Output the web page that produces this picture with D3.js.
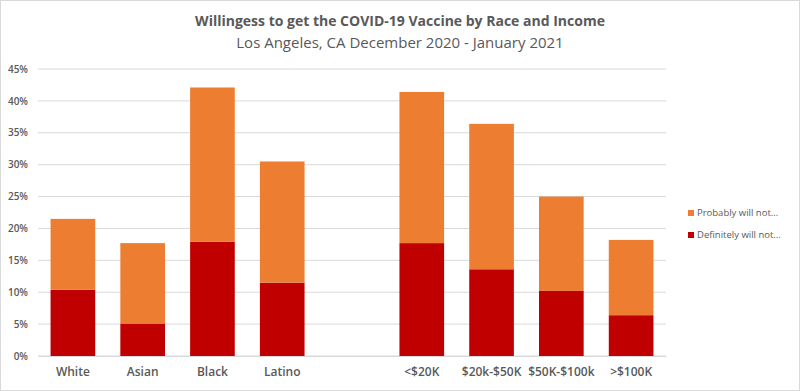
<!DOCTYPE html>
<html><head><meta charset="utf-8">
<script src="https://cdn.jsdelivr.net/npm/d3@7"></script>
<style>body{margin:0;background:#fff}svg{display:block}</style>
</head><body>
<svg id="c" width="800" height="391"></svg>
<script>
const categories = ["White","Asian","Black","Latino","","<$20K","$20k-$50K","$50K-$100k",">$100K"];
const definitelyWillNot = [10.4, 5.1, 17.9, 11.5, null, 17.7, 13.6, 10.2, 6.4];
const totalWillNot = [21.5, 17.7, 42.1, 30.5, null, 41.4, 36.4, 25.0, 18.2];
const probablyWillNot = totalWillNot.map((t,i)=> t==null?null: +(t-definitelyWillNot[i]).toFixed(1));
const yTicks = [0,5,10,15,20,25,30,35,40,45];
const seriesNames = ["Definitely will not...","Probably will not..."];
const colors = ["#c00000","#ed7d31"];

const svg = d3.select("#c");
svg.append("rect").attr("x",0.5).attr("y",0.5).attr("width",799).attr("height",390)
  .attr("fill","#fff").attr("stroke","#d9d9d9");

const m = {l:38, r:134, t:69, b:35};
const W = 800, H = 391;
const x = d3.scaleBand().domain(categories.map((c,i)=>i)).range([m.l, W-m.r]).paddingInner(0.36).paddingOuter(0.18);
const y = d3.scaleLinear().domain([0,45]).range([H-m.b, m.t]);

// grid
svg.append("g").selectAll("line").data(yTicks).join("line")
  .attr("x1",m.l).attr("x2",W-m.r).attr("y1",d=>y(d)).attr("y2",d=>y(d))
  .attr("stroke","#d9d9d9").attr("stroke-width",1);

// y axis labels
const yAxis = d3.axisLeft(y).tickValues(yTicks).tickFormat(d=>d+"%").tickSize(0).tickPadding(10);
const ya = svg.append("g").attr("transform",`translate(${m.l},0)`).call(yAxis);
ya.select(".domain").remove();
ya.selectAll("text").attr("font-family","'Open Sans', sans-serif").attr("font-size","10px").attr("fill","#595959").attr("font-weight","600");

// bars
const stackData = categories.map((c,i)=>({i, d:definitelyWillNot[i], p:probablyWillNot[i]})).filter(r=>r.d!=null);
const stack = d3.stack().keys(["d","p"])(stackData);
svg.append("g").selectAll("g").data(stack).join("g")
  .attr("fill",(s,k)=>colors[k])
  .selectAll("rect").data(s=>s).join("rect")
  .attr("x",d=>x(d.data.i)).attr("width",x.bandwidth())
  .attr("y",d=>y(d[1])).attr("height",d=>y(d[0])-y(d[1]));

// x labels
const xAxis = d3.axisBottom(x).tickFormat(i=>categories[i]).tickSize(0).tickPadding(11);
const xa = svg.append("g").attr("transform",`translate(0,${H-m.b})`).call(xAxis);
xa.select(".domain").attr("stroke","#d9d9d9");
xa.selectAll("text").attr("font-family","'Open Sans', sans-serif").attr("font-size","12px").attr("font-weight","600").attr("fill","#595959");

// title
svg.append("text").attr("x",400).attr("y",26).attr("text-anchor","middle")
  .attr("font-family","'Open Sans', sans-serif").attr("font-weight","bold").attr("font-size","14px").attr("fill","#595959")
  .text("Willingess to get the COVID-19 Vaccine by Race and Income");
svg.append("text").attr("x",400).attr("y",48).attr("text-anchor","middle")
  .attr("font-family","'Open Sans', sans-serif").attr("font-size","15px").attr("fill","#595959")
  .text("Los Angeles, CA December 2020 - January 2021");

// legend
const leg = svg.append("g").selectAll("g").data([1,0]).join("g")
  .attr("transform",(k,j)=>`translate(688,${j===0?213:235})`);
leg.append("rect").attr("x",0).attr("y",-3).attr("width",6).attr("height",6).attr("fill",k=>colors[k]);
leg.append("text").attr("x",9).attr("y",0).attr("dy","0.35em")
  .attr("font-family","'Open Sans', sans-serif").attr("font-size","9.5px").attr("fill","#595959")
  .text(k=>seriesNames[k]);
</script>
</body></html>
